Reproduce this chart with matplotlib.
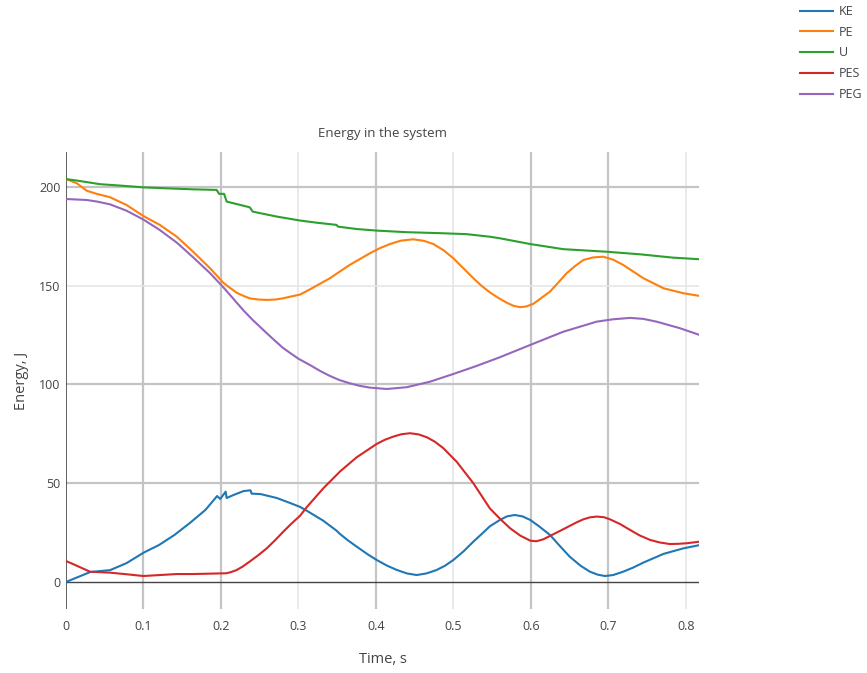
import matplotlib.pyplot as plt
from matplotlib.lines import Line2D

# values
ke_t = [0, 0.02, 0.031, 0.057, 0.078, 0.10, 0.12, 0.14, 0.16, 0.18, 0.195, 0.199,
        0.206, 0.2073, 0.216, 0.229, 0.238, 0.2396, 0.251, 0.272, 0.289, 0.302,
        0.3105, 0.332, 0.349, 0.3535, 0.364, 0.375, 0.39, 0.401, 0.414, 0.4267,
        0.44, 0.4525, 0.465, 0.478, 0.489, 0.4998, 0.513, 0.5256, 0.537, 0.547,
        0.56, 0.569, 0.579, 0.589, 0.599, 0.61, 0.6245, 0.637, 0.650, 0.664, 0.676,
        0.686, 0.6955, 0.706, 0.719, 0.732, 0.745, 0.771, 0.7965, 0.818]
ke = [0, 3.2, 5.0, 6.0, 9.5, 14.8, 18.7, 23.8, 29.9, 36.5, 43.5, 42.0,
      45.7, 42.5, 44.0, 46.0, 46.4, 44.7, 44.5, 42.5, 40.0, 38.0,
      36.1, 31.0, 26.0, 24.3, 21.0, 17.9, 13.8, 11.1, 8.3, 6.1,
      4.3, 3.5, 4.3, 6.0, 8.2, 11.1, 15.5, 20.4, 24.5, 28.2,
      31.4, 33.2, 33.9, 33.2, 31.4, 28.3, 23.8, 18.3, 12.8, 8.2, 5.2,
      3.7, 3.0, 3.5, 5.2, 7.3, 9.8, 14.2, 17.0, 18.7]

pe_t = [0, 0.0138, 0.0267, 0.0396, 0.0568, 0.078, 0.0998, 0.121, 0.143, 0.164,
        0.186, 0.203, 0.212, 0.220, 0.228, 0.237, 0.248, 0.259, 0.27, 0.280, 0.29,
        0.302, 0.315, 0.3406, 0.366, 0.392, 0.405, 0.418, 0.432, 0.448, 0.462,
        0.474, 0.487, 0.4998, 0.5256, 0.536, 0.547, 0.558, 0.5686, 0.577, 0.5858,
        0.594, 0.603, 0.6245, 0.635, 0.646, 0.657, 0.6675, 0.68, 0.693, 0.706,
        0.719, 0.745, 0.771, 0.7965, 0.818]
pe = [204, 201.9, 198.1, 196.5, 194.8, 190.9, 185.3, 180.8, 174.8, 167.2,
      158.8, 151.5, 148.8, 146.5, 145.0, 143.6, 143.0, 142.8, 143.0, 143.6, 144.5,
      145.5, 148.2, 153.8, 160.5, 166.4, 169.0, 171.1, 172.8, 173.5, 172.7,
      171.1, 168.0, 163.9, 153.8, 150.0, 146.6, 143.8, 141.4, 139.9, 139.1,
      139.5, 140.8, 147.0, 151.5, 156.3, 160.0, 163.0, 164.3, 164.7, 163.2,
      160.5, 153.8, 148.7, 146.2, 144.8]

u_t = [0, 0.018, 0.044, 0.0697, 0.0998, 0.13, 0.164, 0.1944, 0.1975, 0.204, 0.2073,
       0.237, 0.241, 0.272, 0.302, 0.3235, 0.349, 0.351, 0.375, 0.401, 0.4396,
       0.4826, 0.517, 0.547, 0.56, 0.599, 0.6417, 0.6977, 0.7406, 0.7836, 0.818]
u = [204, 203, 201.4, 200.7, 199.8, 199.3, 198.8, 198.5, 196.5, 196.5, 192.6,
     189.7, 187.5, 185.0, 183.0, 181.9, 180.8, 179.9, 178.7, 177.9, 177.1,
     176.6, 176.1, 174.8, 174.0, 171.1, 168.5, 167.2, 165.9, 164.2, 163.4]

pes_t = [0, 0.0116, 0.031, 0.0568, 0.078, 0.0998, 0.121, 0.143, 0.164, 0.186, 0.207,
         0.213, 0.220, 0.228, 0.237, 0.248, 0.259, 0.27, 0.280, 0.29, 0.302, 0.3105,
         0.332, 0.3535, 0.375, 0.401, 0.4115, 0.4224, 0.433, 0.444, 0.455, 0.4654,
         0.476, 0.487, 0.504, 0.5256, 0.547, 0.56, 0.573, 0.586, 0.599, 0.607,
         0.616, 0.6417, 0.658, 0.6675, 0.676, 0.6848, 0.694, 0.702, 0.715, 0.728,
         0.74, 0.7535, 0.766, 0.779, 0.79, 0.801, 0.818]
pes = [10.6, 8.6, 5.2, 4.7, 3.9, 3.0, 3.5, 4.0, 4.0, 4.2, 4.4,
       5.0, 6.0, 7.8, 10.3, 13.5, 17.0, 21.2, 25.3, 29.2, 33.5, 37.8,
       47.4, 55.9, 63.1, 69.9, 72.0, 73.6, 74.8, 75.3, 74.7, 73.3,
       71.0, 67.7, 60.9, 50.0, 37.2, 32.0, 27.2, 23.5, 20.9, 20.6,
       21.6, 26.7, 30.0, 31.7, 32.7, 33.1, 32.8, 31.7, 29.3, 26.3,
       23.6, 21.3, 20.0, 19.2, 19.3, 19.6, 20.4]

peg_t = [0, 0.0267, 0.04, 0.0568, 0.078, 0.0998, 0.121, 0.143, 0.164, 0.186, 0.203,
         0.229, 0.24, 0.25, 0.26, 0.27, 0.28, 0.289, 0.30, 0.315, 0.328, 0.3406,
         0.353, 0.366, 0.379, 0.392, 0.414, 0.4396, 0.4697, 0.4998, 0.53, 0.56,
         0.599, 0.6417, 0.6848, 0.706, 0.728, 0.745, 0.762, 0.792, 0.818]
peg = [193.9, 193.4, 192.6, 191.2, 188.0, 183.5, 178.2, 171.8, 164.4, 156.3, 149.2,
       137.5, 133.0, 129.3, 125.6, 122.0, 118.5, 116.0, 113.0, 109.8, 106.8, 104.3,
       102.2, 100.6, 99.3, 98.4, 97.7, 98.6, 101.4, 105.3, 109.4, 113.8,
       120.0, 126.7, 131.8, 133.0, 133.7, 133.2, 131.8, 128.5, 125.0]

series = [
    ('KE', ke_t, ke, '#1f77b4'),
    ('PE', pe_t, pe, '#ff7f0e'),
    ('U', u_t, u, '#2ca02c'),
    ('PES', pes_t, pes, '#d62728'),
    ('PEG', peg_t, peg, '#9467bd'),
]

x_ticks = [0, 0.1, 0.2, 0.3, 0.4, 0.5, 0.6, 0.7, 0.8]
x_tick_labels = ['0', '0.1', '0.2', '0.3', '0.4', '0.5', '0.6', '0.7', '0.8']
y_ticks = [0, 50, 100, 150, 200]

plt.rcParams['font.family'] = ['Open Sans', 'DejaVu Sans']
text_color = '#444444'

fig = plt.figure(figsize=(8.67, 6.73), dpi=100)
ax = fig.add_axes([66 / 867, 1 - 609 / 673, 633 / 867, 457 / 673])

# grid (some lines render darker than others in the original)
dark_x = [0.1, 0.2, 0.4, 0.6, 0.7]
light_x = [0.3, 0.5, 0.8]
for xv in dark_x:
    ax.axvline(xv, color='#c4c4c4', lw=1.6, zorder=0)
for xv in light_x:
    ax.axvline(xv, color='#e6e6e6', lw=1.2, zorder=0)
for yv in [50, 100, 200]:
    ax.axhline(yv, color='#c4c4c4', lw=1.6, zorder=0)
ax.axhline(150, color='#e6e6e6', lw=1.2, zorder=0)

# zero lines
ax.axhline(0, color=text_color, lw=1, zorder=1)
ax.axvline(0, color=text_color, lw=1.2, zorder=1)

handles = []
for name, t, e, c in series:
    ax.plot(t, e, color=c, lw=1.5, zorder=3, solid_joinstyle='round')
    handles.append(Line2D([], [], color=c, lw=1.5, label=name))

ax.set_xlim(0, 0.8168)
ax.set_ylim(-13.7, 217.7)
for s in ax.spines.values():
    s.set_visible(False)

ax.set_xticks(x_ticks)
ax.set_xticklabels(x_tick_labels)
ax.set_yticks(y_ticks)
ax.tick_params(length=0, labelsize=9, colors=text_color)
ax.tick_params(axis='x', pad=8)
ax.tick_params(axis='y', pad=4)

ax.set_title('Energy in the system', fontsize=9.5, color=text_color, pad=11)
ax.set_xlabel('Time, s', fontsize=10.5, color=text_color)
ax.set_ylabel('Energy, J', fontsize=10.5, color=text_color)
ax.xaxis.set_label_coords(0.5, -0.095)
ax.yaxis.set_label_coords(-0.058, 0.5)

fig.legend(handles=handles, loc='upper left', bbox_to_anchor=(800 / 867, 1 - 5 / 673),
           frameon=False, fontsize=9, handlelength=2.65, handletextpad=0.45,
           labelspacing=0.62, borderpad=0, borderaxespad=0, labelcolor=text_color)

fig.savefig('out.png', dpi=100)
